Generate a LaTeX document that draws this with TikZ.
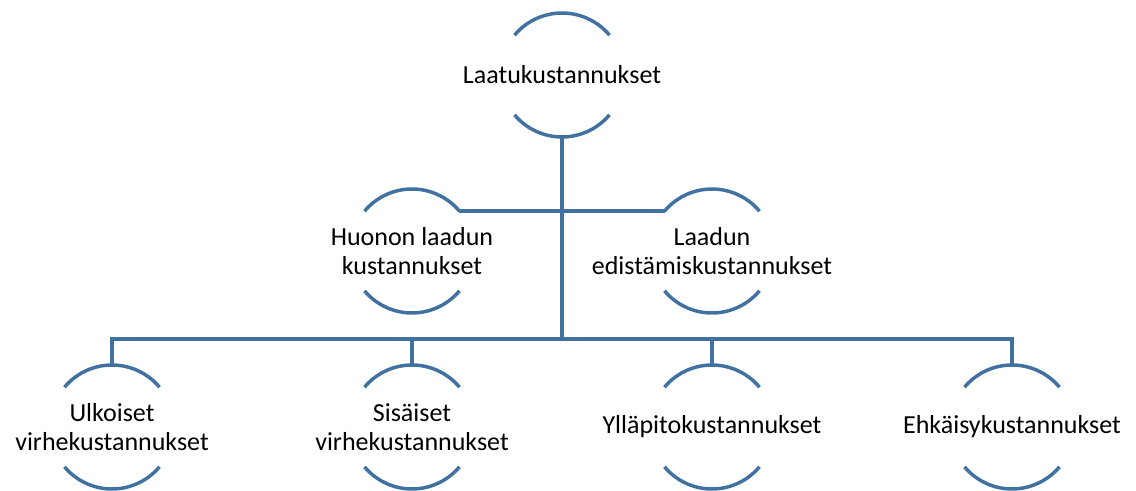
\documentclass[tikz,border=0pt]{standalone}
\usepackage{fontspec}
\setmainfont{Carlito}
\definecolor{linkblue}{RGB}{65,113,160}
\begin{document}
\begin{tikzpicture}[
  x=0.75pt, y=-0.75pt,
  ring/.style={circle, minimum size=93pt, inner sep=0pt, outer sep=0pt},
  caption/.style={align=center, inner sep=0pt, text=black,
    font=\fontsize{19.5}{22}\selectfont},
  arcline/.style={draw=linkblue, line width=2.6pt},
  link/.style={draw=linkblue, line width=3pt},
]
\useasboundingbox (0,0) rectangle (1136,491);

% circle frames of the hierarchy
\node[ring] (top) at (562,75)  {};
\node[ring] (hl)  at (412,251) {};
\node[ring] (hr)  at (712,251) {};
\node[ring] (b1)  at (112,427) {};
\node[ring] (b2)  at (412,427) {};
\node[ring] (b3)  at (712,427) {};
\node[ring] (b4)  at (1012,427) {};
\coordinate (bus) at (562,339);

% connectors
\draw[link] (top.south) -- (bus);
\draw[link] (hl.40) -- (hr.140);
\draw[link] (b1.north) -- (b1.north |- bus) -- (b4.north |- bus) -- (b4.north);
\draw[link] (b2.north) -- (b2.north |- bus);
\draw[link] (b3.north) -- (b3.north |- bus);

% upper and lower arcs of each frame
\foreach \n in {top,hl,hr,b1,b2,b3,b4}{
  \draw[arcline] (\n.40) arc[start angle=40, end angle=140, radius=46.5pt];
  \draw[arcline] (\n.220) arc[start angle=220, end angle=320, radius=46.5pt];
}

% labels
\node[caption] (top-t) at (top) {Laatukustannukset};
\node[caption] (hl-t)  at (hl)  {Huonon laadun\\kustannukset};
\node[caption] (hr-t)  at (hr)  {Laadun\\edistämiskustannukset};
\node[caption] (b1-t)  at (b1)  {Ulkoiset\\virhekustannukset};
\node[caption] (b2-t)  at (b2)  {Sisäiset\\virhekustannukset};
\node[caption] (b3-t)  at (b3)  {Ylläpitokustannukset};
\node[caption] (b4-t)  at (b4)  {Ehkäisykustannukset};
\end{tikzpicture}
\end{document}
